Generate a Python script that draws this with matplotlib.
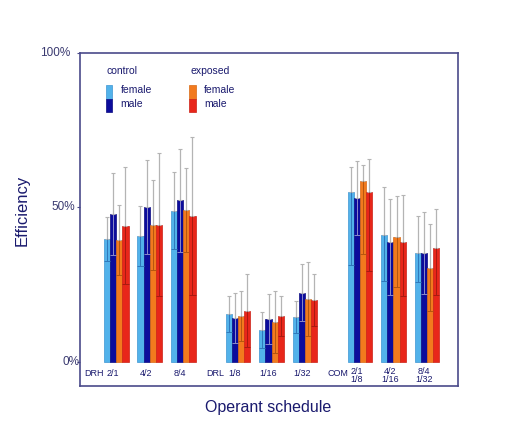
import numpy as np
import matplotlib
matplotlib.use("Agg")
import matplotlib.pyplot as plt
import matplotlib.transforms as mtransforms
from matplotlib.patches import Rectangle

plt.rcParams['font.family'] = ['Liberation Sans', 'DejaVu Sans']

# schedules
families = ['DRH', 'DRL', 'COM']
schedules = ['2/1', '4/2', '8/4', '1/8', '1/16', '1/32',
             '2/1\n1/8', '4/2\n1/16', '8/4\n1/32']

# efficiency [%], per group: mean, upper and lower end of the error bar
ctrl_f = [39.7, 40.8, 49.0, 15.5, 10.4, 14.5, 55.0, 41.0, 35.4]
ctrl_f_hi = [46.8, 50.6, 61.6, 21.4, 16.2, 19.6, 63.1, 56.6, 47.1]
ctrl_f_lo = [32.6, 31.0, 36.4, 9.6, 4.6, 9.4, 31.3, 26.3, 25.8]

ctrl_m = [47.9, 50.1, 52.5, 14.2, 13.8, 22.4, 53.0, 38.8, 35.3]
ctrl_m_hi = [61.3, 65.4, 69.0, 22.2, 21.9, 31.6, 64.9, 52.6, 48.6]
ctrl_m_lo = [34.5, 34.8, 35.7, 6.0, 5.7, 13.2, 41.0, 21.8, 22.0]

exp_f = [39.5, 44.4, 49.2, 14.9, 12.9, 20.3, 58.5, 40.6, 30.3]
exp_f_hi = [50.9, 58.9, 62.9, 23.1, 22.9, 32.3, 63.9, 53.7, 44.6]
exp_f_lo = [28.1, 29.9, 35.5, 6.7, 2.9, 8.3, 35.1, 24.4, 16.4]

exp_m = [44.1, 44.4, 47.2, 16.6, 14.8, 20.1, 55.1, 38.8, 36.8]
exp_m_hi = [63.1, 67.5, 72.7, 28.5, 21.3, 28.5, 65.6, 53.9, 49.5]
exp_m_lo = [25.1, 21.3, 21.7, 4.7, 8.3, 11.7, 29.3, 21.4, 21.8]

series = [(ctrl_f, ctrl_f_hi, ctrl_f_lo),
          (ctrl_m, ctrl_m_hi, ctrl_m_lo),
          (exp_f, exp_f_hi, exp_f_lo),
          (exp_m, exp_m_hi, exp_m_lo)]
colors = ['#52b2ea', '#0c0c9c', '#f27a1e', '#e8261a']
edges = ['#3d95d2', '#0a0a80', '#d86a15', '#cc2015']
inner = ['#2f78bb', '#8a8ac8', '#b5560f', '#a81a10']
navy = '#1a1a6e'
frame = '#4a4a8a'

fig = plt.figure(figsize=(5.14, 4.33), dpi=100)
ax = fig.add_axes([0.1556, 0.1085, 0.735, 0.769])

idx = np.arange(len(schedules))
pos = idx + (idx // 3) * 0.64
w = 0.184

for k, (m, hi, lo) in enumerate(series):
    m = np.array(m); hi = np.array(hi); lo = np.array(lo)
    x = pos + (k - 1.5) * w
    ax.bar(x, m, width=w, color=colors[k], edgecolor=edges[k],
           linewidth=0.5, zorder=2)
    # part of the error bar above the mean
    ax.errorbar(x, m, yerr=[np.zeros_like(m), hi - m], fmt='none',
                ecolor='#b4b4b4', elinewidth=0.9, capsize=1.2,
                capthick=0.8, zorder=3)
    # part inside the bar
    ax.vlines(x, lo, m, color=inner[k], linewidth=0.7, zorder=3)
    ax.hlines(lo, x - w * 0.5, x + w * 0.5, color=inner[k],
              linewidth=0.7, zorder=3)

ax.set_xlim(-1.083, 10.2)
ax.set_ylim(-7.8, 100)
ax.set_xticks([])
ax.set_yticks([0, 50, 100])
ax.set_yticklabels([])
ax.tick_params(axis='y', length=2, width=0.8, color=frame)
for s in ax.spines.values():
    s.set_color(frame)
    s.set_linewidth(1.2)

# y tick labels, placed one by one as in the original
ytr = mtransforms.blended_transform_factory(ax.transAxes, ax.transData)
for yv, lab, right_px in [(0, '0%', 80), (50, '50%', 75), (100, '100%', 70)]:
    ax.text((right_px - 80) / 378.0, yv, lab, transform=ytr, ha='right',
            va='center', fontsize=8.5, color='#3a3a70', clip_on=False)

for i, lab in enumerate(schedules):
    two = '\n' in lab
    ax.text(pos[i] - 0.1, -4.4 if two else -3.8, lab,
            ha='center', va='center', fontsize=6.5, color=navy,
            linespacing=0.9)
for j, fam in enumerate(families):
    ax.text(pos[3 * j] - 0.67, -3.8, fam, ha='center', va='center',
            fontsize=6.5, color=navy)

ax.set_ylabel('Efficiency', fontsize=12, color=navy)
ax.yaxis.set_label_coords((30 - 80) / 378.0, (386 - 210) / 333.0)
ax.set_xlabel('Operant schedule', fontsize=11.5, color=navy)
ax.xaxis.set_label_coords((268 - 80) / 378.0, (386 - 400) / 333.0)

# legend drawn by hand
t = ax.transAxes
def fx(px):
    return (px - 80) / 378.0
def fy(py):
    return (386 - py) / 333.0

ax.text(fx(107), fy(71), 'control', transform=t, fontsize=7.5,
        color=navy, va='center')
ax.text(fx(191), fy(71), 'exposed', transform=t, fontsize=7.5,
        color=navy, va='center')
for x0, cols, eds in [(106, colors[:2], edges[:2]), (189.5, colors[2:], edges[2:])]:
    ax.add_patch(Rectangle((fx(x0), fy(99)), 6.5 / 378, 14 / 333,
                           transform=t, facecolor=cols[0], edgecolor=eds[0],
                           linewidth=0.5))
    ax.add_patch(Rectangle((fx(x0), fy(112)), 6.5 / 378, 13 / 333,
                           transform=t, facecolor=cols[1], edgecolor=eds[1],
                           linewidth=0.5))
    ax.text(fx(x0 + 14.5), fy(89.5), 'female', transform=t, fontsize=7.5,
            color=navy, va='center')
    ax.text(fx(x0 + 14.5), fy(103.5), 'male', transform=t, fontsize=7.5,
            color=navy, va='center')

fig.savefig('out.png', dpi=100)
